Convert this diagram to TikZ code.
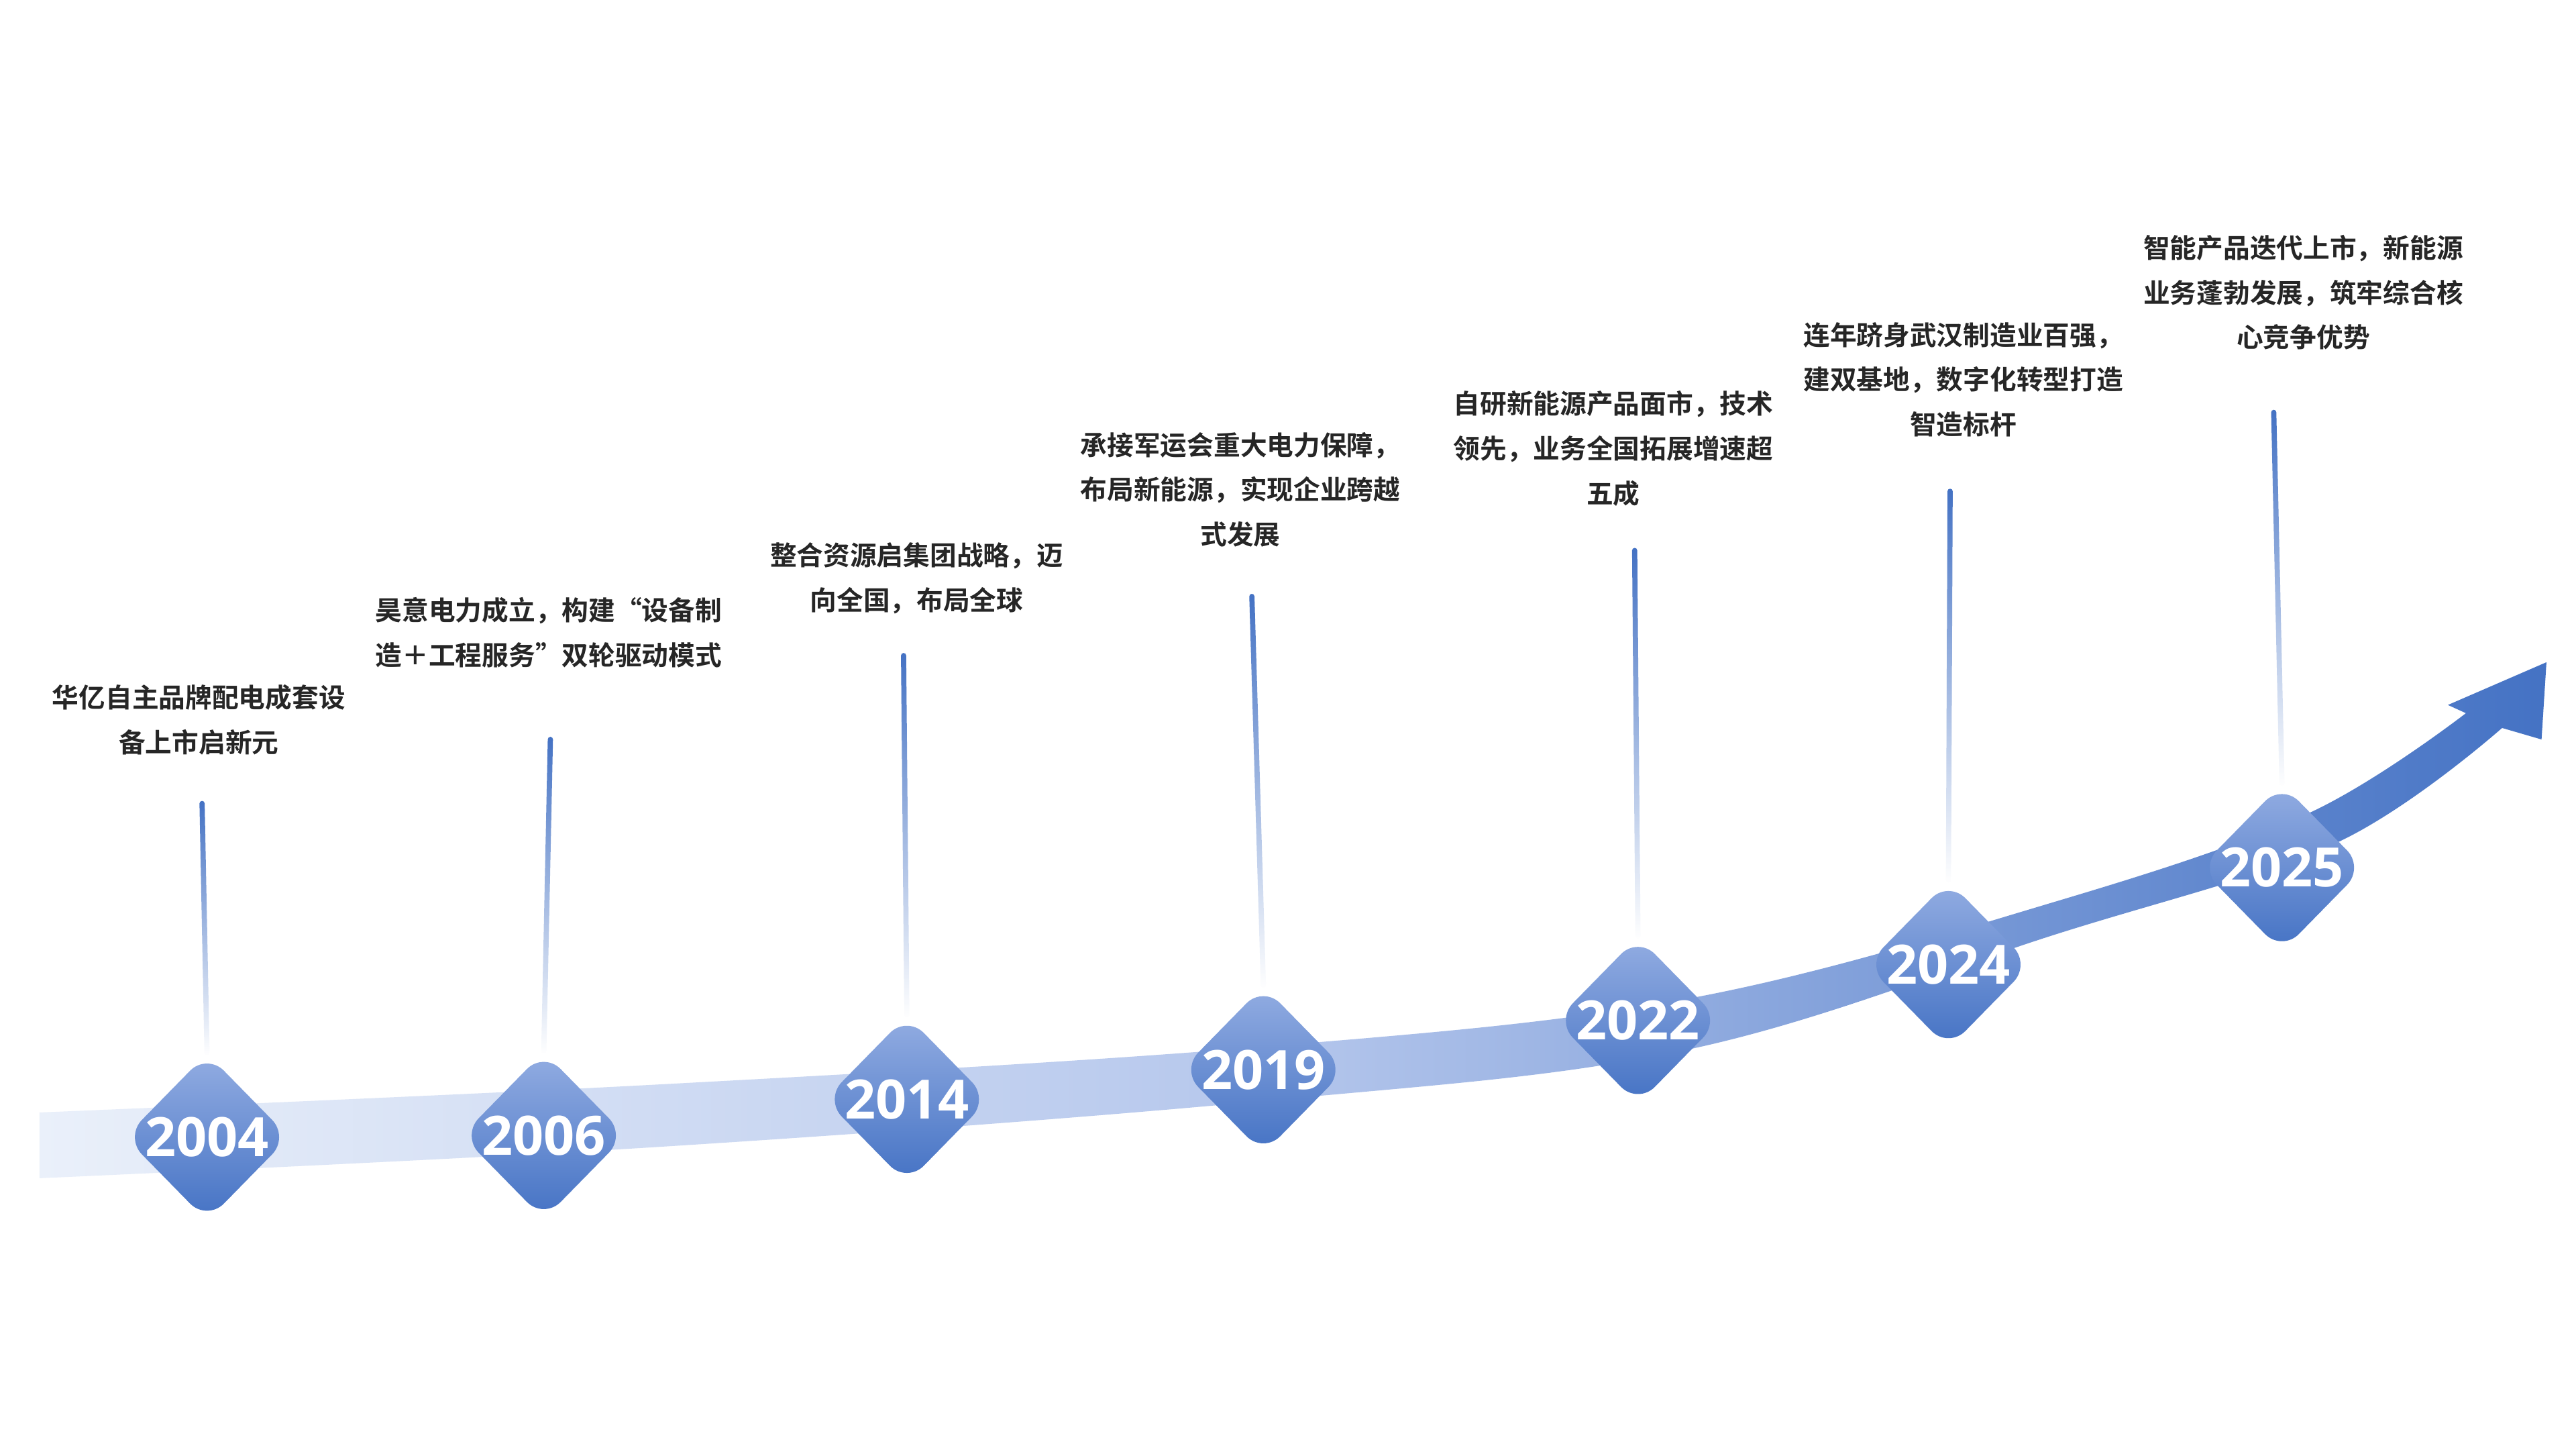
\documentclass[tikz,border=0pt]{standalone}
\usepackage{fontspec}
\newfontfamily\cjk{Noto Sans CJK SC}[BoldFont={* Bold}]
\newfontfamily\yearfont{Open Sans}
\usetikzlibrary{shapes.geometric,fadings}
\definecolor{mainblue}{HTML}{4472C4}
\definecolor{paleblue}{HTML}{EAF0FA}
\definecolor{midblue}{HTML}{B4C6EC}
\definecolor{tipblue}{HTML}{93ADE2}
\definecolor{textgray}{HTML}{262626}

\begin{document}
\begin{tikzpicture}[x=0.2449mm, y=-0.2449mm]
    \tikzstyle{year}=[diamond, minimum width=24.5mm, minimum height=25mm, inner sep=0pt, rounded corners=3.6mm, top color=tipblue, bottom color=mainblue, text=white, font=\yearfont\bfseries\fontsize{23}{23}\selectfont]
    \tikzstyle{desc}=[align=center, inner sep=0pt, text=textgray, font=\cjk\bfseries\fontsize{11.3}{19}\selectfont]
    \tikzstyle{stem}=[line width=2.2pt, mainblue, line cap=round, path fading=south]

    \fill[white] (0,0) rectangle (1568,882);
    \useasboundingbox (0,0) rectangle (1568,882);

    % growth band with arrow head
    \shade[left color=paleblue, right color=mainblue, middle color=midblue]
      plot[smooth, tension=0.6] coordinates {(24,677) (400,660) (769,637) (1026,608) (1250,549) (1405,495) (1501,434)}
      -- (1490,429) -- (1550,403) -- (1547,450)
      -- plot[smooth, tension=0.6] coordinates {(1523,443) (1422,513) (1250,569) (1026,639) (769,670) (400,698) (24,717)}
      -- cycle;

    \node[year] (y2004) at (126,692) {2004};
    \node[year] (y2006) at (331,691) {2006};
    \node[year] (y2014) at (552,669) {2014};
    \node[year] (y2019) at (769,651) {2019};
    \node[year] (y2022) at (997,621) {2022};
    \node[year] (y2024) at (1186,587) {2024};
    \node[year] (y2025) at (1389,528) {2025};

    \node[desc] (t2004) at (121,438) {华亿自主品牌配电成套设\\备上市启新元};
    \node[desc] (t2006) at (334,385) {昊意电力成立，构建“设备制\\造＋工程服务”双轮驱动模式};
    \node[desc] (t2014) at (558,352) {整合资源启集团战略，迈\\向全国，布局全球};
    \node[desc] (t2019) at (755,298) {承接军运会重大电力保障，\\布局新能源，实现企业跨越\\式发展};
    \node[desc] (t2022) at (982,273) {自研新能源产品面市，技术\\领先，业务全国拓展增速超\\五成};
    \node[desc] (t2024) at (1195,231) {连年跻身武汉制造业百强，\\建双基地，数字化转型打造\\智造标杆};
    \node[desc] (t2025) at (1402,178) {智能产品迭代上市，新能源\\业务蓬勃发展，筑牢综合核\\心竞争优势};

    \coordinate (s2004) at (123,489);
    \coordinate (s2006) at (335,450);
    \coordinate (s2014) at (550,399);
    \coordinate (s2019) at (762,363);
    \coordinate (s2022) at (995,335);
    \coordinate (s2024) at (1187,299);
    \coordinate (s2025) at (1384,251);

    \draw[stem] (s2004) -- (y2004.north);
    \draw[stem] (s2006) -- (y2006.north);
    \draw[stem] (s2014) -- (y2014.north);
    \draw[stem] (s2019) -- (y2019.north);
    \draw[stem] (s2022) -- (y2022.north);
    \draw[stem] (s2024) -- (y2024.north);
    \draw[stem] (s2025) -- (y2025.north);
  \end{tikzpicture}
\end{document}
